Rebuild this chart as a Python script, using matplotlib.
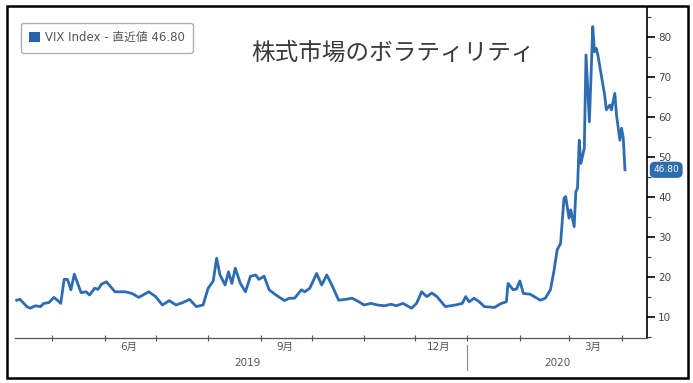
import numpy as np
import pandas as pd
import matplotlib
matplotlib.use("Agg")
import matplotlib.pyplot as plt
import matplotlib.dates as mdates
import matplotlib.transforms as mtransforms
from matplotlib.patches import Patch, Rectangle
from matplotlib.lines import Line2D

plt.rcParams['font.family'] = ['DejaVu Sans', 'Noto Sans CJK JP']

# VIX closing levels, April 2019 - April 2020
dates = [
    "2019-04-10", "2019-04-12", "2019-04-16", "2019-04-18", "2019-04-21", "2019-04-24",
    "2019-04-26", "2019-04-29", "2019-05-02", "2019-05-04", "2019-05-06", "2019-05-08",
    "2019-05-10", "2019-05-12", "2019-05-14", "2019-05-16", "2019-05-18", "2019-05-21",
    "2019-05-23", "2019-05-26", "2019-05-28", "2019-05-30", "2019-06-02", "2019-06-07",
    "2019-06-13", "2019-06-17", "2019-06-21", "2019-06-27", "2019-07-01", "2019-07-05",
    "2019-07-09", "2019-07-13", "2019-07-17", "2019-07-21", "2019-07-25", "2019-07-29",
    "2019-08-01", "2019-08-04", "2019-08-06", "2019-08-08", "2019-08-11", "2019-08-13",
    "2019-08-15", "2019-08-17", "2019-08-20", "2019-08-23", "2019-08-26", "2019-08-29",
    "2019-08-31", "2019-09-03", "2019-09-06", "2019-09-10", "2019-09-15", "2019-09-18",
    "2019-09-21", "2019-09-25", "2019-09-27", "2019-09-30", "2019-10-04", "2019-10-07",
    "2019-10-10", "2019-10-13", "2019-10-17", "2019-10-21", "2019-10-25", "2019-10-29",
    "2019-11-01", "2019-11-05", "2019-11-09", "2019-11-13", "2019-11-17", "2019-11-20",
    "2019-11-24", "2019-11-29", "2019-12-02", "2019-12-05", "2019-12-08", "2019-12-11",
    "2019-12-14", "2019-12-19", "2019-12-25", "2019-12-29", "2019-12-31", "2020-01-02",
    "2020-01-05", "2020-01-08", "2020-01-11", "2020-01-17", "2020-01-21", "2020-01-24",
    "2020-01-25", "2020-01-28", "2020-01-30", "2020-02-01", "2020-02-03", "2020-02-07",
    "2020-02-11", "2020-02-13", "2020-02-16", "2020-02-19", "2020-02-21", "2020-02-23",
    "2020-02-25", "2020-02-27", "2020-02-28", "2020-03-01", "2020-03-02", "2020-03-04",
    "2020-03-05", "2020-03-06", "2020-03-07", "2020-03-08", "2020-03-10", "2020-03-11",
    "2020-03-13", "2020-03-15", "2020-03-16", "2020-03-17", "2020-03-18", "2020-03-22",
    "2020-03-23", "2020-03-25", "2020-03-26", "2020-03-28", "2020-03-29", "2020-03-31",
    "2020-04-01", "2020-04-02", "2020-04-03",
]
vix = [
    14.2, 14.4, 12.6, 12.2, 12.8, 12.6,
    13.4, 13.6, 14.9, 14.2, 13.4, 19.4,
    19.4, 16.8, 20.7, 18.4, 16.1, 16.3,
    15.5, 17.2, 16.9, 18.2, 18.8, 16.3,
    16.3, 15.9, 14.9, 16.3, 15.1, 13.0,
    14.1, 13.0, 13.6, 14.4, 12.6, 13.0,
    17.2, 19.0, 24.7, 20.5, 18.0, 21.3,
    18.4, 22.2, 18.4, 16.3, 20.2, 20.5,
    19.4, 20.2, 16.8, 15.5, 14.1, 14.7,
    14.7, 16.8, 16.3, 17.2, 20.9, 18.0,
    20.5, 18.0, 14.2, 14.4, 14.7, 13.8,
    13.0, 13.4, 13.0, 12.8, 13.2, 12.8,
    13.4, 12.2, 13.4, 16.3, 15.1, 16.0,
    15.1, 12.6, 13.0, 13.4, 15.1, 13.8,
    14.7, 13.8, 12.6, 12.4, 13.4, 13.8,
    18.4, 16.8, 17.0, 19.0, 15.9, 15.7,
    14.7, 14.2, 14.7, 16.8, 21.3, 26.8,
    28.4, 39.7, 40.1, 34.7, 36.8, 32.6,
    41.3, 42.2, 54.2, 48.4, 52.2, 75.5,
    58.8, 82.6, 76.3, 77.2, 75.5, 65.5,
    61.8, 63.0, 61.8, 65.9, 60.5, 54.2,
    57.2, 54.7, 46.8,
]
last_value = 46.80

month_labels = ["6月", "9月", "12月", "3月"]
month_label_dates = ["2019-06-15", "2019-09-15", "2019-12-15", "2020-03-15"]
years = ["2019", "2020"]
year_centers = ["2019-08-24", "2020-02-23"]
yticks = [10, 20, 30, 40, 50, 60, 70, 80]

line_blue = '#2d6cb0'
W, H = 693, 383

fig = plt.figure(figsize=(W / 100, H / 100), dpi=100)
ax = fig.add_axes([15 / W, 45 / H, (647 - 15) / W, (338 - 7) / H])

x = pd.to_datetime(dates)
ax.plot(x, vix, color=line_blue, lw=2.0, solid_joinstyle='round')

ax.set_xlim(pd.Timestamp("2019-04-09"), pd.Timestamp("2020-04-16"))
ax.set_ylim(4.75, 87.5)

# y axis on the right
ax.yaxis.tick_right()
ax.set_yticks(yticks)
ax.set_yticks(np.arange(5, 90, 5), minor=True)
ax.tick_params(axis='y', which='major', direction='out', length=6, width=1.2,
               color='black', labelsize=7.5, labelcolor='#444444', pad=2)
ax.tick_params(axis='y', which='minor', direction='out', length=3, width=0.8,
               color='#333333')

# month boundaries as ticks, month names centred between them
ax.xaxis.set_major_locator(mdates.MonthLocator())
ax.xaxis.set_major_formatter(plt.NullFormatter())
ax.tick_params(axis='x', which='major', direction='inout', length=4, width=0.8,
               color='#555555')
ax.set_xticks(pd.to_datetime(month_label_dates), month_labels, minor=True)
ax.tick_params(axis='x', which='minor', length=0, labelsize=7.5,
               labelcolor='#555555', pad=3)

for side in ('top', 'left'):
    ax.spines[side].set_visible(False)
ax.spines['right'].set_linewidth(1.2)
ax.spines['bottom'].set_color('#555555')
ax.spines['bottom'].set_linewidth(0.9)

# year row with divider at the new year
trans = mtransforms.blended_transform_factory(ax.transData, ax.transAxes)
for yr, c in zip(years, year_centers):
    ax.text(pd.Timestamp(c), -25 / 331, yr, transform=trans, ha='center',
            va='center', fontsize=7.5, color='#555555')
ax.add_line(Line2D([pd.Timestamp("2020-01-01")] * 2, [-7 / 331, -32 / 331],
                   transform=trans, color='#888888', lw=0.8, clip_on=False))

# last value badge
trans_y = mtransforms.blended_transform_factory(ax.transAxes, ax.transData)
ax.text(1.01, last_value, f"{last_value:.2f}", transform=trans_y, ha='left',
        va='center', fontsize=6.5, color='white', zorder=5,
        bbox=dict(boxstyle='round,pad=0.4,rounding_size=0.6', fc=line_blue,
                  ec='none'))

# title inside the plot
fig.text(393 / W, 1 - 53 / H, "株式市場のボラティリティ", ha='center', va='center',
         fontsize=17, color='#3a3a3a', family='Noto Sans CJK JP')

leg = ax.legend(handles=[Patch(fc='#2563b0', ec='none')],
                labels=[f"VIX Index - 直近値 {last_value:.2f}"],
                loc='upper left', bbox_to_anchor=(21 / W, 1 - 23 / H),
                bbox_transform=fig.transFigure, borderaxespad=0,
                fontsize=8.5, handlelength=0.9, handleheight=0.9,
                handletextpad=0.4, borderpad=0.7, fancybox=True,
                framealpha=1, edgecolor='#b0b0b0')
for t in leg.get_texts():
    t.set_color('#555555')

# outer frame
fig.patches.append(Rectangle((7 / W, 5 / H), (688 - 7) / W, 372 / H,
                             transform=fig.transFigure, fill=False,
                             ec='black', lw=1.8))

fig.savefig("out.png", dpi=100, facecolor='white')
